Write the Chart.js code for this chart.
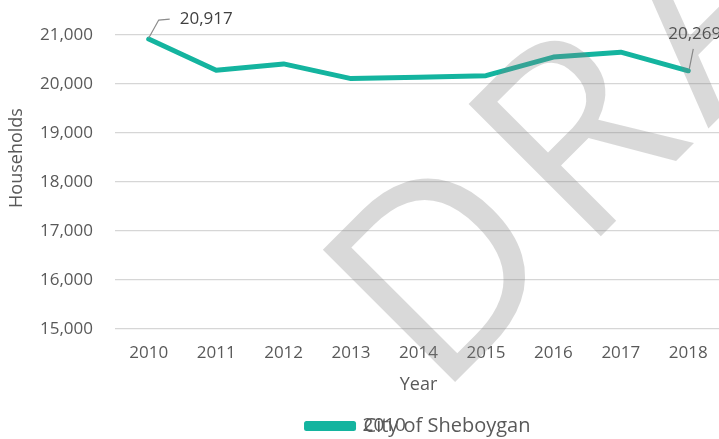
<!DOCTYPE html>
<html>
<head>
<meta charset="utf-8">
<title>Households - City of Sheboygan</title>
<script src="https://cdn.jsdelivr.net/npm/chart.js@4.4.0/dist/chart.umd.min.js"></script>
<style>
    html, body { margin: 0; padding: 0; background: #fff; overflow: hidden; }
    #wrap { position: relative; width: 722px; height: 439px; }
</style>
</head>
<body>
<div id="wrap"><canvas id="householdsChart"></canvas></div>
<script>
// Chart data
// ==========
const years = ['2010', '2011', '2012', '2013', '2014', '2015', '2016', '2017', '2018'];
const households = [20917, 20280, 20410, 20110, 20140, 20170, 20550, 20650, 20269];
const yMin = 15000;
const yMax = 21000;
const yStep = 1000;
const seriesName = 'City of Sheboygan';
const xAxisTitle = 'Year';
const yAxisTitle = 'Households';
const watermarkText = 'DRAFT';
const legendOverlapText = '2010';   // stray text that sits on top of the legend label

const TEAL = '#14b49f';
const TEXT_GREY = '#595959';
const FONT = '"Open Sans", sans-serif';

// Number formatting used by ticks and data labels
function formatNumber(value) {
    return new Intl.NumberFormat('en-US').format(value);
}

// Draws the first and last value labels with their leader lines
const endLabelsPlugin = {
    id: 'endLabels',
    afterDatasetsDraw(chart) {
        const ctx = chart.ctx;
        const points = chart.getDatasetMeta(0).data;
        const first = points[0];
        const last = points[points.length - 1];

        ctx.save();
        ctx.strokeStyle = '#8c8c8c';
        ctx.lineWidth = 1.2;
        ctx.beginPath();
        ctx.moveTo(first.x, first.y - 1);
        ctx.lineTo(first.x + 10, first.y - 19);
        ctx.lineTo(first.x + 21, first.y - 20);
        ctx.moveTo(last.x + 1, last.y - 2);
        ctx.lineTo(last.x + 5, last.y - 22);
        ctx.stroke();

        ctx.fillStyle = '#404040';
        ctx.font = '17px ' + FONT;
        ctx.textAlign = 'left';
        ctx.textBaseline = 'middle';
        ctx.fillText(formatNumber(households[0]), first.x + 31, first.y - 20);
        ctx.fillText(formatNumber(households[households.length - 1]), last.x - 20, last.y - 37);
        ctx.restore();
    }
};

// Y axis title placed like the original, plus the overlapping legend text and watermark
const decorationsPlugin = {
    id: 'decorations',
    afterDraw(chart) {
        const ctx = chart.ctx;
        ctx.save();

        // y axis title
        ctx.save();
        ctx.translate(17, 158);
        ctx.rotate(-Math.PI / 2);
        ctx.fillStyle = TEXT_GREY;
        ctx.font = '18px ' + FONT;
        ctx.textAlign = 'center';
        ctx.textBaseline = 'middle';
        ctx.fillText(yAxisTitle, 0, 0);
        ctx.restore();

        // stray text over the legend label
        const legend = chart.legend;
        if (legend && legend.legendHitBoxes && legend.legendHitBoxes.length) {
            const box = legend.legendHitBoxes[0];
            const textX = box.left + legend.options.labels.boxWidth + 10;
            ctx.fillStyle = TEXT_GREY;
            ctx.font = '19px ' + FONT;
            ctx.textAlign = 'left';
            ctx.textBaseline = 'middle';
            ctx.fillText(legendOverlapText, textX - 1, box.top + box.height / 2);
        }

        // watermark
        ctx.translate(437, 400);
        ctx.rotate(-Math.PI / 4);
        ctx.fillStyle = 'rgba(128, 128, 128, 0.3)';
        ctx.font = '262px ' + FONT;
        ctx.letterSpacing = '16px';
        ctx.textAlign = 'left';
        ctx.textBaseline = 'alphabetic';
        ctx.fillText(watermarkText, 0, 0);

        ctx.restore();
    }
};

function initializeHouseholdsChart() {
    const canvas = document.getElementById('householdsChart');
    if (!canvas) return;

    new Chart(canvas, {
        type: 'line',
        data: {
            labels: years,
            datasets: [{
                label: seriesName,
                data: households,
                borderColor: TEAL,
                backgroundColor: TEAL,
                borderWidth: 5,
                borderJoinStyle: 'round',
                borderCapStyle: 'round',
                pointRadius: 0,
                tension: 0,
                fill: false
            }]
        },
        options: {
            responsive: false,
            animation: false,
            devicePixelRatio: 1,
            layout: {
                padding: { top: 35, left: 0, right: 0, bottom: -7 }
            },
            plugins: {
                legend: {
                    position: 'bottom',
                    fullSize: false,
                    labels: {
                        boxWidth: 47,
                        boxHeight: 5,
                        padding: 6,
                        color: TEXT_GREY,
                        font: { family: FONT, size: 20 }
                    }
                },
                tooltip: { enabled: false }
            },
            scales: {
                x: {
                    offset: true,
                    grid: { display: false, drawTicks: false },
                    border: { display: false },
                    ticks: {
                        color: TEXT_GREY,
                        padding: 14,
                        maxRotation: 0,
                        font: { family: FONT, size: 17 }
                    },
                    title: {
                        display: true,
                        text: xAxisTitle,
                        color: TEXT_GREY,
                        padding: { top: -3, bottom: 14 },
                        font: { family: FONT, size: 18 }
                    }
                },
                y: {
                    min: yMin,
                    max: yMax,
                    afterFit(scale) { scale.width = 115; },
                    grid: { color: '#d6d6d6', lineWidth: 1.3, drawTicks: false },
                    border: { display: false },
                    ticks: {
                        stepSize: yStep,
                        color: TEXT_GREY,
                        padding: 22,
                        font: { family: FONT, size: 17 },
                        callback: value => formatNumber(value)
                    }
                }
            }
        },
        plugins: [endLabelsPlugin, decorationsPlugin]
    });
}

document.addEventListener('DOMContentLoaded', function() {
    const canvas = document.getElementById('householdsChart');
    canvas.width = 722;
    canvas.height = 439;
    initializeHouseholdsChart();
});
</script>
</body>
</html>
